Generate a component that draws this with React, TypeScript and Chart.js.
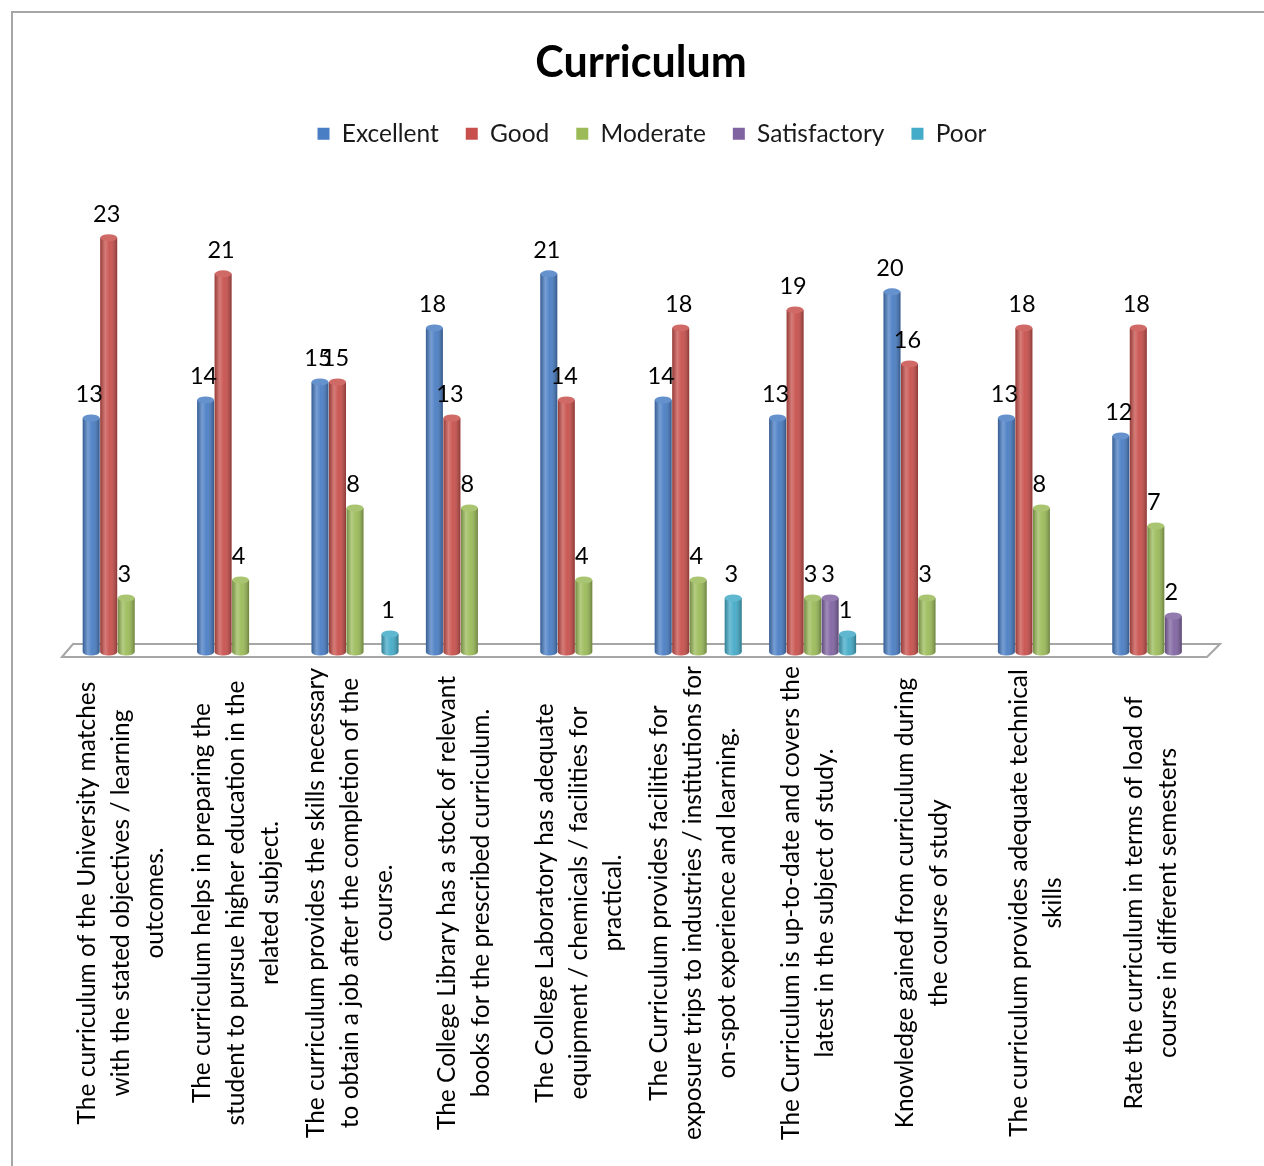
import React, { useEffect, useRef } from "react";
import { Chart, registerables } from "chart.js";

Chart.register(...registerables);

const categories: string[][] = [
  ["The curriculum of the University matches", "with the stated objectives / learning", "outcomes."],
  ["The curriculum helps in preparing the", "student to pursue higher education in the", "related subject."],
  ["The curriculum provides the skills necessary", "to obtain a job after the completion of the", "course."],
  ["The College Library has a stock of relevant", "books for the prescribed curriculum."],
  ["The College Laboratory has adequate", "equipment / chemicals / facilities for", "practical."],
  ["The Curriculum provides facilities for", "exposure trips to industries / institutions for", "on-spot experience and learning."],
  ["The Curriculum is up-to-date and covers the", "latest in the subject of study."],
  ["Knowledge gained from curriculum during", "the course of study"],
  ["The curriculum provides adequate technical", "skills"],
  ["Rate the curriculum in terms of load of", "course in different semesters"],
];

const seriesNames = ["Excellent", "Good", "Moderate", "Satisfactory", "Poor"];
const excellent = [13, 14, 15, 18, 21, 14, 13, 20, 13, 12];
const good = [23, 21, 15, 13, 14, 18, 19, 16, 18, 18];
const moderate = [3, 4, 8, 8, 4, 4, 3, 3, 8, 7];
const satisfactory = [0, 0, 0, 0, 0, 0, 3, 0, 0, 2];
const poor = [0, 0, 1, 0, 0, 3, 1, 0, 0, 0];
const seriesColors = ["#4A7EC4", "#C8504C", "#9BBB59", "#8064A2", "#44ABC8"];

const FONT = "Lato, 'Open Sans', sans-serif";

function lighten(hex: string, amt: number): string {
  const n = parseInt(hex.slice(1), 16);
  const r = (n >> 16) & 255, g = (n >> 8) & 255, b = n & 255;
  const f = (c: number) => Math.round(c + (255 - c) * amt);
  return `rgb(${f(r)},${f(g)},${f(b)})`;
}

const decorPlugin = {
  id: "decor",
  afterLayout(chart: any) {
    const lg = chart.legend;
    if (lg) {
      lg.left += 11;
      lg.right += 11;
    }
  },
  beforeDraw(chart: any) {
    const { ctx, width, height } = chart;
    ctx.save();
    ctx.fillStyle = "#ffffff";
    ctx.fillRect(0, 0, width, height);
    ctx.strokeStyle = "#a6a6a6";
    ctx.lineWidth = 2;
    ctx.beginPath();
    ctx.moveTo(12, height);
    ctx.lineTo(12, 12);
    ctx.lineTo(width, 12);
    ctx.stroke();
    ctx.restore();
  },
  beforeDatasetsDraw(chart: any) {
    const { ctx } = chart;
    const { left, right, bottom } = chart.chartArea;
    ctx.save();
    ctx.strokeStyle = "#a6a6a6";
    ctx.lineWidth = 2;
    ctx.beginPath();
    ctx.moveTo(left - 7, bottom + 5);
    ctx.lineTo(left + 4, bottom - 8);
    ctx.lineTo(right + 7, bottom - 8);
    ctx.lineTo(right - 6, bottom + 5);
    ctx.closePath();
    ctx.stroke();
    ctx.restore();
  },
  afterDatasetsDraw(chart: any) {
    const { ctx } = chart;
    ctx.save();
    chart.data.datasets.forEach((ds: any, di: number) => {
      const meta = chart.getDatasetMeta(di);
      const color = seriesColors[di];
      meta.data.forEach((el: any, i: number) => {
        const v = ds.data[i];
        if (!v) return;
        const { x, y, base, width } = el.getProps(["x", "y", "base", "width"], true);
        const l = x - width / 2;
        const ry = 3.5;
        ctx.beginPath();
        ctx.ellipse(x, base, width / 2, ry, 0, 0, Math.PI);
        ctx.fillStyle = color;
        ctx.fill();
        const g = ctx.createLinearGradient(l, 0, l + width, 0);
        g.addColorStop(0, "rgba(0,0,0,0.25)");
        g.addColorStop(0.3, "rgba(255,255,255,0.25)");
        g.addColorStop(0.55, "rgba(255,255,255,0.05)");
        g.addColorStop(1, "rgba(0,0,0,0.30)");
        ctx.fillStyle = g;
        ctx.beginPath();
        ctx.rect(l, y, width, base - y);
        ctx.ellipse(x, base, width / 2, ry, 0, 0, Math.PI);
        ctx.fill();
        ctx.beginPath();
        ctx.ellipse(x, y, width / 2, ry, 0, 0, Math.PI * 2);
        ctx.fillStyle = lighten(color, 0.15);
        ctx.fill();
        ctx.fillStyle = "#000";
        ctx.font = `23.5px ${FONT}`;
        ctx.textAlign = "center";
        ctx.textBaseline = "alphabetic";
        ctx.fillText(String(v), x - 2, y - 16);
      });
    });
    ctx.restore();
  },
  afterDraw(chart: any) {
    const { ctx } = chart;
    const xs = chart.scales.x;
    ctx.save();
    ctx.fillStyle = "#000";
    ctx.font = `24.5px ${FONT}`;
    ctx.textAlign = "center";
    ctx.textBaseline = "middle";
    categories.forEach((lines, i) => {
      const cx = xs.getPixelForValue(i) - 5;
      ctx.save();
      ctx.translate(cx, 903);
      ctx.rotate(-Math.PI / 2);
      lines.forEach((t, j) => {
        ctx.fillText(t, 0, (j - (lines.length - 1) / 2) * 34);
      });
      ctx.restore();
    });
    ctx.restore();
  },
};

export default function App() {
  const ref = useRef<HTMLCanvasElement>(null);
  useEffect(() => {
    if (!ref.current) return;
    const series = [excellent, good, moderate, satisfactory, poor];
    const chart = new Chart(ref.current, {
      type: "bar",
      data: {
        labels: categories.map((c) => c.join(" ")),
        datasets: series.map((d, i) => ({
          label: seriesNames[i],
          data: d,
          backgroundColor: seriesColors[i],
          borderWidth: 0,
          barPercentage: 0.97,
          categoryPercentage: 0.765,
        })),
      },
      options: {
        responsive: false,
        animation: false,
        events: [],
        layout: { padding: { left: 69, right: 51, top: 0, bottom: 514 } },
        scales: {
          x: { display: false },
          y: { display: false, min: 0, max: 27.54 },
        },
        plugins: {
          tooltip: { enabled: false },
          title: {
            display: true,
            text: "Curriculum",
            color: "#000",
            font: { family: FONT, size: 43, weight: "bold" },
            padding: { top: 37, bottom: 6 },
          },
          legend: {
            display: true,
            position: "top",
            labels: {
              color: "#1a1a1a",
              font: { family: FONT, size: 24.5 },
              boxWidth: 12,
              boxHeight: 12,
              padding: 27,
            },
          },
        },
      },
      plugins: [decorPlugin],
    });
    return () => chart.destroy();
  }, []);
  return (
    <div style={{ position: "fixed", left: 0, top: 0, width: 1264, height: 1166, background: "#fff" }}>
      <canvas ref={ref} width={1264} height={1166} style={{ display: "block" }} />
    </div>
  );
}
